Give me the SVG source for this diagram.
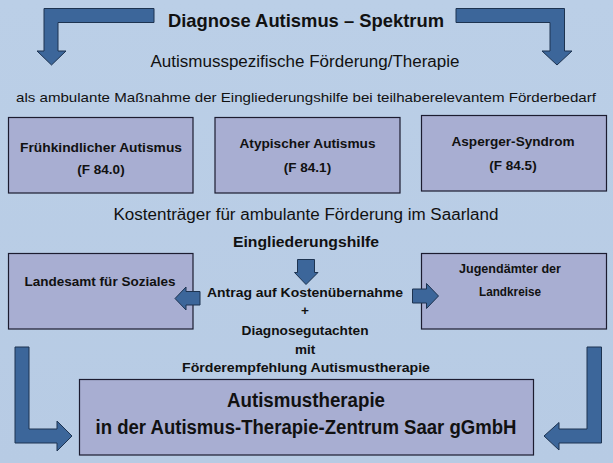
<svg xmlns="http://www.w3.org/2000/svg" width="613" height="463" viewBox="0 0 613 463">
<defs>
<linearGradient id="bg" x1="0" y1="0" x2="0" y2="1">
<stop offset="0" stop-color="#bbcfe7"/>
<stop offset="1" stop-color="#b7cbe4"/>
</linearGradient>
<style>
text{font-family:"Liberation Sans",Arial,sans-serif;fill:#111;text-anchor:middle}
.b{font-weight:bold}
.box{fill:#a8aed2;stroke:#1c1c30;stroke-width:1.2}
.arr{fill:#3c669a;stroke:#1d3350;stroke-width:1}
</style>
</defs>
<rect x="0" y="0" width="613" height="463" fill="url(#bg)"/>

<g id="title">
<text class="b" x="306" y="26.5" font-size="18.5" textLength="276" lengthAdjust="spacingAndGlyphs">Diagnose Autismus – Spektrum</text>
<text x="305" y="67" font-size="16" textLength="309" lengthAdjust="spacingAndGlyphs">Autismusspezifische Förderung/Therapie</text>
<text x="306" y="102" font-size="13" textLength="580" lengthAdjust="spacingAndGlyphs">als ambulante Maßnahme der Eingliederungshilfe bei teilhaberelevantem Förderbedarf</text>
</g>

<g id="node-fruehkindlich">
<rect class="box" x="8.5" y="117.5" width="184.5" height="75.5"/>
<text class="b" x="101" y="151.5" font-size="13.5" textLength="162" lengthAdjust="spacingAndGlyphs">Frühkindlicher Autismus</text>
<text class="b" x="101" y="173.5" font-size="13.5">(F 84.0)</text>
</g>
<g id="node-atypisch">
<rect class="box" x="215" y="117.5" width="185" height="75.5"/>
<text class="b" x="307.5" y="148" font-size="13.5" textLength="136" lengthAdjust="spacingAndGlyphs">Atypischer Autismus</text>
<text class="b" x="307.5" y="171.5" font-size="13.5">(F 84.1)</text>
</g>
<g id="node-asperger">
<rect class="box" x="421.5" y="115.5" width="185" height="75.5"/>
<text class="b" x="513" y="146" font-size="13.5" textLength="123" lengthAdjust="spacingAndGlyphs">Asperger-Syndrom</text>
<text class="b" x="513" y="170" font-size="13.5">(F 84.5)</text>
</g>

<g id="kosten">
<text x="306" y="220" font-size="16" textLength="385" lengthAdjust="spacingAndGlyphs">Kostenträger für ambulante Förderung im Saarland</text>
<text class="b" x="306" y="246.5" font-size="15" textLength="146" lengthAdjust="spacingAndGlyphs">Eingliederungshilfe</text>
</g>

<g id="node-landesamt">
<rect class="box" x="8.5" y="253.5" width="184.5" height="75.5"/>
<text class="b" x="100" y="286" font-size="13.5" textLength="151" lengthAdjust="spacingAndGlyphs">Landesamt für Soziales</text>
</g>
<g id="node-jugendaemter">
<rect class="box" x="421.5" y="253.5" width="185" height="75.5"/>
<text class="b" x="510" y="273" font-size="13.5" textLength="102" lengthAdjust="spacingAndGlyphs">Jugendämter der</text>
<text class="b" x="510" y="296" font-size="13.5" textLength="62" lengthAdjust="spacingAndGlyphs">Landkreise</text>
</g>

<g id="antrag">
<text class="b" x="305" y="296.5" font-size="13.5" textLength="196" lengthAdjust="spacingAndGlyphs">Antrag auf Kostenübernahme</text>
<text class="b" x="305" y="315" font-size="13.5">+</text>
<text class="b" x="305" y="334.5" font-size="13.5" textLength="127" lengthAdjust="spacingAndGlyphs">Diagnosegutachten</text>
<text class="b" x="305" y="354" font-size="13.5">mit</text>
<text class="b" x="306" y="371.5" font-size="13.5" textLength="248" lengthAdjust="spacingAndGlyphs">Förderempfehlung Autismustherapie</text>
</g>

<g id="node-autismustherapie">
<rect class="box" x="79.5" y="379.5" width="454" height="75.5"/>
<text class="b" x="306" y="406.5" font-size="19.5" textLength="158" lengthAdjust="spacingAndGlyphs">Autismustherapie</text>
<text class="b" x="306" y="433.5" font-size="19.5" textLength="421" lengthAdjust="spacingAndGlyphs">in der Autismus-Therapie-Zentrum Saar gGmbH</text>
</g>

<g id="connectors">
<path class="arr" d="M154,8.5 L44,8.5 L44,51 L37,51 L51.5,65 L66,51 L58,51 L58,22.5 L154,22.5 Z"/>
<path class="arr" d="M456,8.5 L564.5,8.5 L564.5,51 L572,51 L557,65 L542,51 L550,51 L550,22.5 L456,22.5 Z"/>
<path class="arr" d="M15,347 L29,347 L29,429 L57,429 L57,421 L72,436 L57,451 L57,443 L15,443 Z"/>
<path class="arr" d="M601.5,347 L587,347 L587,429 L559,429 L559,422.5 L544,436 L559,450 L559,443 L601.5,443 Z"/>
<path class="arr" d="M297.5,259.5 L314.5,259.5 L314.5,272.5 L318,272.5 L306,284.5 L294.5,272.5 L297.5,272.5 Z"/>
<path class="arr" d="M200,291.5 L186,291.5 L186,287 L175,298.5 L186,310 L186,305 L200,305 Z"/>
<path class="arr" d="M412.5,289 L426.5,289 L426.5,283.5 L438.5,296 L426.5,308.5 L426.5,303 L412.5,303 Z"/>
</g>
</svg>
